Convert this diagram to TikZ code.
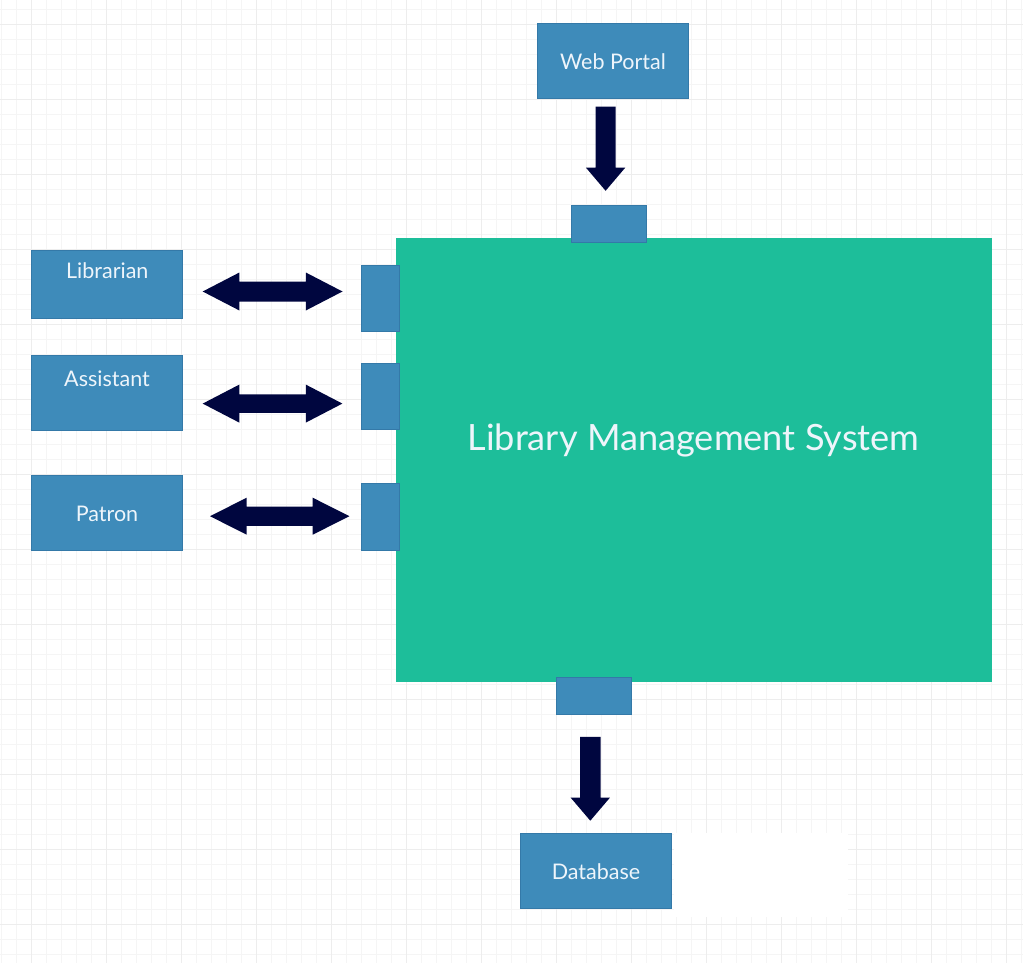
\documentclass[tikz,border=0pt]{standalone}
\usepackage{fontspec}
\setmainfont{Lato}
\definecolor{boxblue}{HTML}{3E8BBA}
\definecolor{boxedge}{HTML}{3479A8}
\definecolor{lmsgreen}{HTML}{1DBE9A}
\definecolor{navy}{HTML}{00063F}
\definecolor{gridminor}{HTML}{F5F5F5}
\definecolor{gridmajor}{HTML}{EDEDED}
\definecolor{lbltext}{HTML}{EEF5FB}
\newcommand\DoubleBlock[6]{% left tip x, right tip x, centre y, head length, head half-height, shaft half-height
  \fill[navy] (#1,#3) -- (#1+#4,#3-#5) -- (#1+#4,#3-#6) -- (#2-#4,#3-#6) -- (#2-#4,#3-#5) -- (#2,#3)
    -- (#2-#4,#3+#5) -- (#2-#4,#3+#6) -- (#1+#4,#3+#6) -- (#1+#4,#3+#5) -- cycle;}
\newcommand\DownBlock[6]{% centre x, top y, tip y, head length, head half-width, shaft half-width
  \fill[navy] (#1-#6,#2) -- (#1+#6,#2) -- (#1+#6,#3-#4) -- (#1+#5,#3-#4) -- (#1,#3)
    -- (#1-#5,#3-#4) -- (#1-#6,#3-#4) -- cycle;}
\begin{document}
\begin{tikzpicture}[x=1pt,y=-1pt,
  box/.style={draw=boxedge, line width=0.8pt, fill=boxblue, inner sep=0pt, outer sep=0pt, anchor=north west},
  lbl/.style={text=lbltext, font=\fontsize{21.5}{24}\selectfont, inner sep=0pt, anchor=base},
  biglbl/.style={text=lbltext, font=\fontsize{36.2}{42}\selectfont, inner sep=0pt, anchor=base}]
\useasboundingbox (0,0) rectangle (1023,963);
\fill[white] (0,0) rectangle (1023,963);
% grid
\foreach \i in {0,...,68} \draw[gridminor, line width=1.2pt] (1.5+15*\i,0) -- (1.5+15*\i,963);
\foreach \i in {0,...,64} \draw[gridminor, line width=1.2pt] (0,9.5+15*\i) -- (1023,9.5+15*\i);
\foreach \i in {0,...,13} \draw[gridmajor, line width=1.2pt] (31.5+75*\i,0) -- (31.5+75*\i,963);
\foreach \i in {0,...,12} \draw[gridmajor, line width=1.2pt] (0,24.5+75*\i) -- (1023,24.5+75*\i);
\fill[white] (674,833) rectangle (848,917);
% main system
\node[fill=lmsgreen, inner sep=0pt, outer sep=0pt, minimum width=596pt, minimum height=444pt, anchor=north west] (lms) at (395.5,238) {};
\node[biglbl] (lmstext) at (693.5,450) {Library Management System};
% ports
\node[box, minimum width=74.5pt, minimum height=37pt] (porttop) at (571.7,205.3) {};
\node[box, minimum width=75pt, minimum height=37.5pt] (portbottom) at (556.3,677) {};
\node[box, minimum width=37.5pt, minimum height=66pt] (port1) at (361.5,265.3) {};
\node[box, minimum width=37.5pt, minimum height=66pt] (port2) at (361.5,363.5) {};
\node[box, minimum width=37.5pt, minimum height=67pt] (port3) at (361.5,483) {};
% external boxes
\node[box, minimum width=151pt, minimum height=75pt] (web) at (537.5,23.3) {};
\node[lbl] (webtext) at (613,69.3) {Web Portal};
\node[box, minimum width=151pt, minimum height=68.5pt] (librarian) at (31.3,250.3) {};
\node[lbl] (librariantext) at (107.3,278.3) {Librarian};
\node[box, minimum width=151pt, minimum height=75.5pt] (assistant) at (31.3,355.3) {};
\node[lbl] (assistanttext) at (107,386.7) {Assistant};
\node[box, minimum width=151pt, minimum height=75.5pt] (patron) at (31.3,475.2) {};
\node[lbl] (patrontext) at (107,521.2) {Patron};
\node[box, minimum width=151pt, minimum height=75.5pt] (database) at (520.3,833.2) {};
\node[lbl] (databasetext) at (596,879) {Database};
% arrows
\DownBlock{605.6}{106.7}{190.8}{23.2}{19.7}{10}
\DownBlock{590.3}{736.8}{820.7}{23}{19.6}{10.3}
\DoubleBlock{202.7}{342.5}{291.5}{36.7}{19}{10}
\DoubleBlock{202.7}{342.4}{403.6}{36.6}{19}{9.2}
\DoubleBlock{210}{349.4}{516.2}{36.7}{18.5}{9.7}
\end{tikzpicture}
\end{document}
